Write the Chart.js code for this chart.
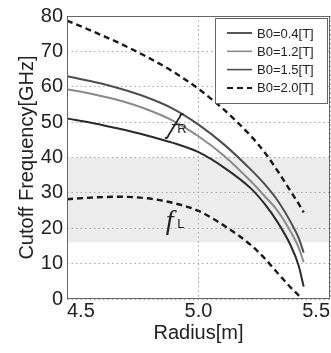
<!DOCTYPE html>
<html lang="en">
<head>
<meta charset="UTF-8">
<title>Cutoff Frequency</title>
<script src="https://cdn.jsdelivr.net/npm/chart.js"></script>
<style>
  html, body { margin: 0; padding: 0; background: #fff; }
  #wrap { width: 331px; height: 353px; }
</style>
</head>
<body>
<div id="wrap"><canvas id="cutoffChart"></canvas></div>
<script>
// values
const radius  = [4.5, 4.6, 4.7, 4.8, 4.9, 5.0, 5.1, 5.2, 5.25, 5.3, 5.35, 5.38, 5.4];
const fR04    = [51.0, 49.7, 48.1, 46.3, 44.2, 41.5, 37.0, 31.2, 27.0, 21.8, 15.2, 9.6, 3.5];
const fR12    = [59.3, 57.9, 56.1, 53.7, 50.5, 46.0, 40.3, 33.2, 29.2, 25.0, 19.1, 14.7, 10.4];
const fR15    = [63.0, 61.4, 59.5, 57.1, 53.9, 49.3, 43.5, 36.5, 32.6, 27.9, 21.8, 17.4, 13.1];
const fR20    = [78.7, 75.6, 72.3, 68.6, 64.4, 59.4, 53.3, 46.0, 41.6, 36.3, 30.5, 27.0, 24.5];
const radiusL = [4.5, 4.6, 4.7, 4.8, 4.9, 5.0, 5.1, 5.2, 5.25, 5.3, 5.35, 5.38, 5.39];
const fL20    = [28.2, 28.7, 28.9, 28.5, 27.2, 24.9, 20.6, 15.2, 11.6, 7.4, 3.3, 1.1, 0.5];
const seriesLabels = ['B0=0.4[T]', 'B0=1.2[T]', 'B0=1.5[T]', 'B0=2.0[T]'];
const xTicks = [4.5, 5.0, 5.5];
const bandRange = [16, 40];

const pts = (xs, ys) => xs.map((x, i) => ({ x: x, y: ys[i] }));
const FONT = 'Liberation Sans, Arial, sans-serif';

function line(label, xs, ys, color, dash, inLegend) {
    return {
        label: label,
        data: pts(xs, ys),
        borderColor: color,
        borderWidth: dash ? 2.4 : 2,
        borderDash: dash ? [6, 4] : [],
        pointRadius: 0,
        cubicInterpolationMode: 'monotone',
        fill: false,
        inLegend: inLegend
    };
}

// grey band behind the curves
const bandPlugin = {
    id: 'band',
    beforeDraw(chart) {
        const { ctx, chartArea, scales } = chart;
        const yTop = scales.y.getPixelForValue(bandRange[1]);
        const yBot = scales.y.getPixelForValue(bandRange[0]);
        ctx.save();
        ctx.fillStyle = '#ececec';
        ctx.fillRect(chartArea.left, yTop, chartArea.right - chartArea.left, yBot - yTop);
        ctx.restore();
    }
};

// box, f_R / f_L marks and the legend
const decorPlugin = {
    id: 'decor',
    afterDraw(chart) {
        const { ctx, chartArea, scales } = chart;
        const px = v => scales.x.getPixelForValue(v);
        const py = v => scales.y.getPixelForValue(v);
        ctx.save();

        ctx.strokeStyle = '#666';
        ctx.lineWidth = 1;
        ctx.strokeRect(chartArea.left + 0.5, chartArea.top + 0.5,
            chartArea.right - chartArea.left - 1, chartArea.bottom - chartArea.top - 1);

        // f_R bracket
        const x1 = px(4.935), y1 = py(52.4), x2 = px(4.880), y2 = py(45.4);
        ctx.strokeStyle = '#222';
        ctx.lineWidth = 1.8;
        ctx.beginPath();
        ctx.moveTo(x1 + 2, y1 + 1);
        ctx.quadraticCurveTo(x1, y1 - 1, x1 - 1.5, y1 + 3);
        ctx.lineTo(x2 + 1.5, y2 - 3);
        ctx.quadraticCurveTo(x2, y2 + 1, x2 - 2, y2 - 1);
        ctx.stroke();
        ctx.lineWidth = 1.2;
        ctx.beginPath();
        ctx.moveTo(px(4.899), py(49.3));
        ctx.lineTo(px(4.922), py(49.3));
        ctx.stroke();

        ctx.fillStyle = '#222';
        ctx.textAlign = 'center';
        ctx.textBaseline = 'middle';
        ctx.font = '13px ' + FONT;
        ctx.fillText('R', px(4.937), py(47.8));

        ctx.font = 'italic 28px Liberation Serif, Times New Roman, serif';
        ctx.fillText('f', px(4.890), py(21.9));
        ctx.font = '13px ' + FONT;
        ctx.fillText('L', px(4.933), py(21.0));

        // legend
        const boxR = chartArea.right - 3, boxT = chartArea.top + 2;
        const boxW = 112, boxH = 85;
        const boxL = boxR - boxW;
        ctx.fillStyle = '#fff';
        ctx.fillRect(boxL, boxT, boxW, boxH);
        ctx.strokeStyle = '#666';
        ctx.lineWidth = 1;
        ctx.strokeRect(boxL + 0.5, boxT + 0.5, boxW, boxH);
        const items = chart.data.datasets.filter(d => d.inLegend);
        ctx.font = '13px ' + FONT;
        ctx.textAlign = 'left';
        items.forEach((d, i) => {
            const y = boxT + 15 + i * 18.3;
            ctx.strokeStyle = d.borderColor;
            ctx.lineWidth = d.borderDash.length ? 2 : 1.6;
            ctx.setLineDash(d.borderDash);
            ctx.beginPath();
            ctx.moveTo(boxL + 12, y);
            ctx.lineTo(boxL + 37, y);
            ctx.stroke();
            ctx.setLineDash([]);
            ctx.fillStyle = '#222';
            ctx.fillText(d.label, boxL + 42, y + 1);
        });
        ctx.restore();
    }
};

const chart = new Chart(document.getElementById('cutoffChart'), {
    type: 'line',
    data: {
        datasets: [
            line(seriesLabels[0], radius, fR04, '#2a2a2a', false, true),
            line(seriesLabels[1], radius, fR12, '#8a8a8a', false, true),
            line(seriesLabels[2], radius, fR15, '#4e4e4e', false, true),
            line(seriesLabels[3], radius, fR20, '#1a1a1a', true, true),
            line(seriesLabels[3] + ' fL', radiusL, fL20, '#1a1a1a', true, false)
        ]
    },
    options: {
        responsive: true,
        maintainAspectRatio: false,
        animation: false,
        layout: { padding: { left: 0, top: 10, right: 1, bottom: 0 } },
        plugins: { legend: { display: false }, tooltip: { enabled: false } },
        scales: {
            x: {
                type: 'linear',
                min: 4.5,
                max: 5.5,
                afterBuildTicks: s => { s.ticks = xTicks.map(v => ({ value: v })); },
                afterFit: s => { s.height = 54; },
                ticks: {
                    align: 'inner',
                    padding: 0,
                    maxRotation: 0,
                    color: '#222',
                    font: { family: FONT, size: 20 },
                    callback: v => Number(v).toFixed(1)
                },
                grid: { color: '#a8a8a8', drawTicks: false },
                border: { color: '#777', dash: [1.5, 3], display: false },
                title: {
                    display: true,
                    text: 'Radius[m]',
                    color: '#222',
                    font: { family: FONT, size: 20 },
                    padding: { top: 0, bottom: 8 }
                }
            },
            y: {
                min: 0,
                max: 80,
                afterFit: s => { s.width = 67; },
                ticks: {
                    stepSize: 10,
                    padding: 4,
                    color: '#222',
                    font: { family: FONT, size: 20 }
                },
                grid: { color: '#a8a8a8', drawTicks: false },
                border: { color: '#777', dash: [1.5, 3], display: false },
                title: {
                    display: true,
                    text: 'Cutoff Frequency[GHz]',
                    color: '#222',
                    font: { family: FONT, size: 20 },
                    padding: { top: 15, bottom: 0 }
                }
            }
        }
    },
    plugins: [bandPlugin, decorPlugin]
});
</script>
</body>
</html>
